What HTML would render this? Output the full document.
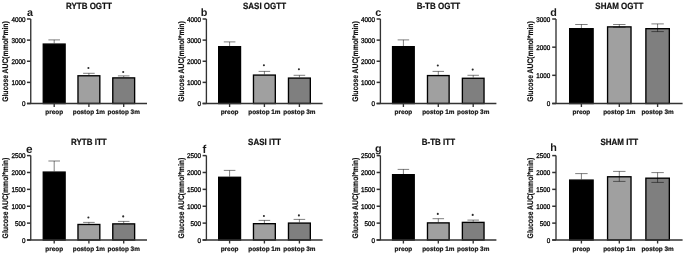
<!DOCTYPE html>
<html><head><meta charset="utf-8"><style>
html,body{margin:0;padding:0;background:#fff;}
body{width:685px;height:255px;overflow:hidden;}
svg{display:block;}
text{font-family:"Liberation Sans", sans-serif;font-weight:bold;fill:#111;text-rendering:geometricPrecision;}
.t{font-size:8.0px;stroke:#111;stroke-width:0.2px;}
.l{font-size:10.8px;fill:#1a1a1a;font-weight:bold;}
.k{font-size:6.3px;stroke:#111;stroke-width:0.3px;font-weight:normal;}
.x{font-size:6.4px;stroke:#111;stroke-width:0.2px;}
.yl{font-size:6.8px;stroke:#111;stroke-width:0.15px;}
</style></head><body>
<svg width="685" height="255" viewBox="0 0 685 255">
<rect width="685" height="255" fill="#fff"/>
<defs><filter id="bl" x="0" y="0" width="100%" height="100%" filterUnits="userSpaceOnUse"><feOffset dx="0" dy="0"/></filter></defs>
<g filter="url(#bl)">
<text transform="translate(88.88,8.7) scale(1,1.13)" class="t" text-anchor="middle">RYTB OGTT</text>
<text x="29.95" y="15.6" class="l" style="font-size:10.8px" text-anchor="middle">a</text>
<text transform="translate(8.15,61.55) rotate(-90) scale(1,1.2)" class="yl" text-anchor="middle">Glucose AUC(mmol*min)</text>
<rect x="43.27" y="44.07" width="21.85" height="59.43" fill="#000000" stroke="#000" stroke-width="1.35"/>
<path d="M54.2 39.9V43.4M48.4 39.9H60" stroke="#000" stroke-opacity="0.5" stroke-width="1.0" fill="none"/>
<path d="M54.2 103.5V107" stroke="#333" stroke-width="1.35"/>
<text x="54.2" y="113.8" class="x" text-anchor="middle">preop</text>
<rect x="77.98" y="75.77" width="21.85" height="27.73" fill="#a0a0a0" stroke="#000" stroke-width="1.35"/>
<path d="M88.9 73.3V75.1M83.1 73.3H94.7" stroke="#000" stroke-opacity="0.5" stroke-width="1.0" fill="none"/>
<circle cx="88.4" cy="68" r="1.05" fill="#2a2a2a"/>
<path d="M88.9 103.5V107" stroke="#333" stroke-width="1.35"/>
<text x="88.9" y="113.8" class="x" text-anchor="middle">postop 1m</text>
<rect x="112.78" y="77.88" width="21.85" height="25.62" fill="#7f7f7f" stroke="#000" stroke-width="1.35"/>
<path d="M123.7 75.9V77.2M117.9 75.9H129.5" stroke="#000" stroke-opacity="0.5" stroke-width="1.0" fill="none"/>
<circle cx="123.2" cy="72" r="1.05" fill="#2a2a2a"/>
<path d="M123.7 103.5V107" stroke="#333" stroke-width="1.35"/>
<text x="123.7" y="113.8" class="x" text-anchor="middle">postop 3m</text>
<path d="M30.75 19V103.5M26.95 103.5H147" stroke="#333" stroke-width="1.35" fill="none"/>
<path d="M26.95 103.5H30.75" stroke="#333" stroke-width="1.5"/>
<text transform="translate(25.45,106.38) scale(1,1.1)" class="k" text-anchor="end">0</text>
<path d="M26.95 82.38H30.75" stroke="#333" stroke-width="1.5"/>
<text transform="translate(25.45,85.26) scale(1,1.1)" class="k" text-anchor="end">1000</text>
<path d="M26.95 61.25H30.75" stroke="#333" stroke-width="1.5"/>
<text transform="translate(25.45,64.13) scale(1,1.1)" class="k" text-anchor="end">2000</text>
<path d="M26.95 40.12H30.75" stroke="#333" stroke-width="1.5"/>
<text transform="translate(25.45,43.01) scale(1,1.1)" class="k" text-anchor="end">3000</text>
<path d="M26.95 19H30.75" stroke="#333" stroke-width="1.5"/>
<text transform="translate(25.45,21.88) scale(1,1.1)" class="k" text-anchor="end">4000</text>
<text transform="translate(264.5,8.7) scale(1,1.13)" class="t" text-anchor="middle">SASI OGTT</text>
<text x="204.15" y="15.5" class="l" style="font-size:10.8px" text-anchor="middle">b</text>
<text transform="translate(183.8,61.55) rotate(-90) scale(1,1.2)" class="yl" text-anchor="middle">Glucose AUC(mmol*min)</text>
<rect x="218.68" y="46.67" width="21.85" height="56.83" fill="#000000" stroke="#000" stroke-width="1.35"/>
<path d="M229.6 41.9V46M223.8 41.9H235.4" stroke="#000" stroke-opacity="0.5" stroke-width="1.0" fill="none"/>
<path d="M229.6 103.5V107" stroke="#333" stroke-width="1.35"/>
<text x="229.6" y="113.8" class="x" text-anchor="middle">preop</text>
<rect x="253.47" y="75.08" width="21.85" height="28.42" fill="#a0a0a0" stroke="#000" stroke-width="1.35"/>
<path d="M264.4 71.4V74.4M258.6 71.4H270.2" stroke="#000" stroke-opacity="0.5" stroke-width="1.0" fill="none"/>
<circle cx="263.9" cy="65.3" r="1.05" fill="#2a2a2a"/>
<path d="M264.4 103.5V107" stroke="#333" stroke-width="1.35"/>
<text x="264.4" y="113.8" class="x" text-anchor="middle">postop 1m</text>
<rect x="288.47" y="78.08" width="21.85" height="25.42" fill="#7f7f7f" stroke="#000" stroke-width="1.35"/>
<path d="M299.4 75.3V77.4M293.6 75.3H305.2" stroke="#000" stroke-opacity="0.5" stroke-width="1.0" fill="none"/>
<circle cx="298.9" cy="69.2" r="1.05" fill="#2a2a2a"/>
<path d="M299.4 103.5V107" stroke="#333" stroke-width="1.35"/>
<text x="299.4" y="113.8" class="x" text-anchor="middle">postop 3m</text>
<path d="M206.4 19V103.5M202.6 103.5H322.6" stroke="#333" stroke-width="1.35" fill="none"/>
<path d="M202.6 103.5H206.4" stroke="#333" stroke-width="1.5"/>
<text transform="translate(201.1,106.38) scale(1,1.1)" class="k" text-anchor="end">0</text>
<path d="M202.6 82.38H206.4" stroke="#333" stroke-width="1.5"/>
<text transform="translate(201.1,85.26) scale(1,1.1)" class="k" text-anchor="end">1000</text>
<path d="M202.6 61.25H206.4" stroke="#333" stroke-width="1.5"/>
<text transform="translate(201.1,64.13) scale(1,1.1)" class="k" text-anchor="end">2000</text>
<path d="M202.6 40.12H206.4" stroke="#333" stroke-width="1.5"/>
<text transform="translate(201.1,43.01) scale(1,1.1)" class="k" text-anchor="end">3000</text>
<path d="M202.6 19H206.4" stroke="#333" stroke-width="1.5"/>
<text transform="translate(201.1,21.88) scale(1,1.1)" class="k" text-anchor="end">4000</text>
<text transform="translate(438.4,8.7) scale(1,1.13)" class="t" text-anchor="middle">B-TB OGTT</text>
<text x="378.2" y="15.6" class="l" style="font-size:10.8px" text-anchor="middle">c</text>
<text transform="translate(357.8,61.55) rotate(-90) scale(1,1.2)" class="yl" text-anchor="middle">Glucose AUC(mmol*min)</text>
<rect x="392.57" y="46.67" width="21.65" height="56.83" fill="#000000" stroke="#000" stroke-width="1.35"/>
<path d="M403.4 39.9V46M397.65 39.9H409.15" stroke="#000" stroke-opacity="0.5" stroke-width="1.0" fill="none"/>
<path d="M403.4 103.5V107" stroke="#333" stroke-width="1.35"/>
<text x="403.4" y="113.8" class="x" text-anchor="middle">preop</text>
<rect x="427.48" y="75.58" width="21.65" height="27.92" fill="#a0a0a0" stroke="#000" stroke-width="1.35"/>
<path d="M438.3 71.4V74.9M432.55 71.4H444.05" stroke="#000" stroke-opacity="0.5" stroke-width="1.0" fill="none"/>
<circle cx="437.8" cy="65.5" r="1.05" fill="#2a2a2a"/>
<path d="M438.3 103.5V107" stroke="#333" stroke-width="1.35"/>
<text x="438.3" y="113.8" class="x" text-anchor="middle">postop 1m</text>
<rect x="462.38" y="78.27" width="21.65" height="25.23" fill="#7f7f7f" stroke="#000" stroke-width="1.35"/>
<path d="M473.2 75.3V77.6M467.45 75.3H478.95" stroke="#000" stroke-opacity="0.5" stroke-width="1.0" fill="none"/>
<circle cx="472.7" cy="69.6" r="1.05" fill="#2a2a2a"/>
<path d="M473.2 103.5V107" stroke="#333" stroke-width="1.35"/>
<text x="473.2" y="113.8" class="x" text-anchor="middle">postop 3m</text>
<path d="M380.4 19V103.5M376.6 103.5H496.4" stroke="#333" stroke-width="1.35" fill="none"/>
<path d="M376.6 103.5H380.4" stroke="#333" stroke-width="1.5"/>
<text transform="translate(375.1,106.38) scale(1,1.1)" class="k" text-anchor="end">0</text>
<path d="M376.6 82.38H380.4" stroke="#333" stroke-width="1.5"/>
<text transform="translate(375.1,85.26) scale(1,1.1)" class="k" text-anchor="end">1000</text>
<path d="M376.6 61.25H380.4" stroke="#333" stroke-width="1.5"/>
<text transform="translate(375.1,64.13) scale(1,1.1)" class="k" text-anchor="end">2000</text>
<path d="M376.6 40.12H380.4" stroke="#333" stroke-width="1.5"/>
<text transform="translate(375.1,43.01) scale(1,1.1)" class="k" text-anchor="end">3000</text>
<path d="M376.6 19H380.4" stroke="#333" stroke-width="1.5"/>
<text transform="translate(375.1,21.88) scale(1,1.1)" class="k" text-anchor="end">4000</text>
<text transform="translate(619.3,8.7) scale(1,1.13)" class="t" text-anchor="middle">SHAM OGTT</text>
<text x="553.6" y="15.5" class="l" style="font-size:10.8px" text-anchor="middle">d</text>
<text transform="translate(533.4,61.55) rotate(-90) scale(1,1.2)" class="yl" text-anchor="middle">Glucose AUC(mmol*min)</text>
<rect x="569.67" y="28.68" width="23.45" height="74.83" fill="#000000" stroke="#000" stroke-width="1.35"/>
<path d="M581.4 24.5V28M575.2 24.5H587.6" stroke="#000" stroke-opacity="0.5" stroke-width="1.0" fill="none"/>
<path d="M581.4 103.5V107" stroke="#333" stroke-width="1.35"/>
<text x="581.4" y="113.8" class="x" text-anchor="middle">preop</text>
<rect x="607.57" y="26.88" width="23.45" height="76.62" fill="#a0a0a0" stroke="#000" stroke-width="1.35"/>
<path d="M619.3 24.5V27.2M613.1 24.5H625.5" stroke="#000" stroke-opacity="0.5" stroke-width="1.0" fill="none"/>
<path d="M613.1 27.2H625.5" stroke="#000" stroke-opacity="0.5" stroke-width="1.0" fill="none"/>
<path d="M619.3 103.5V107" stroke="#333" stroke-width="1.35"/>
<text x="619.3" y="113.8" class="x" text-anchor="middle">postop 1m</text>
<rect x="645.88" y="28.68" width="23.45" height="74.83" fill="#7f7f7f" stroke="#000" stroke-width="1.35"/>
<path d="M657.6 23.9V31.6M651.4 23.9H663.8" stroke="#000" stroke-opacity="0.5" stroke-width="1.0" fill="none"/>
<path d="M651.4 31.6H663.8" stroke="#000" stroke-opacity="0.5" stroke-width="1.0" fill="none"/>
<path d="M657.6 103.5V107" stroke="#333" stroke-width="1.35"/>
<text x="657.6" y="113.8" class="x" text-anchor="middle">postop 3m</text>
<path d="M556 19V103.5M552.2 103.5H682.6" stroke="#333" stroke-width="1.35" fill="none"/>
<path d="M552.2 103.5H556" stroke="#333" stroke-width="1.5"/>
<text transform="translate(550.2,106.38) scale(1,1.1)" class="k" text-anchor="end">0</text>
<path d="M552.2 75.33H556" stroke="#333" stroke-width="1.5"/>
<text transform="translate(550.2,78.21) scale(1,1.1)" class="k" text-anchor="end">1000</text>
<path d="M552.2 47.17H556" stroke="#333" stroke-width="1.5"/>
<text transform="translate(550.2,50.05) scale(1,1.1)" class="k" text-anchor="end">2000</text>
<path d="M552.2 19H556" stroke="#333" stroke-width="1.5"/>
<text transform="translate(550.2,21.88) scale(1,1.1)" class="k" text-anchor="end">3000</text>
<text transform="translate(88.88,144.8) scale(1,1.13)" class="t" text-anchor="middle">RYTB ITT</text>
<text x="29.35" y="152.6" class="l" style="font-size:11.8px" text-anchor="middle">e</text>
<text transform="translate(8.15,198.1) rotate(-90) scale(1,1.2)" class="yl" text-anchor="middle">Glucose AUC(mmol*min)</text>
<rect x="43.27" y="172.08" width="21.85" height="67.92" fill="#000000" stroke="#000" stroke-width="1.35"/>
<path d="M54.2 161V171.4M48.4 161H60" stroke="#000" stroke-opacity="0.5" stroke-width="1.0" fill="none"/>
<path d="M54.2 240V243.5" stroke="#333" stroke-width="1.35"/>
<text x="54.2" y="250.8" class="x" text-anchor="middle">preop</text>
<rect x="77.98" y="224.48" width="21.85" height="15.52" fill="#a0a0a0" stroke="#000" stroke-width="1.35"/>
<path d="M88.9 222.4V223.8M83.1 222.4H94.7" stroke="#000" stroke-opacity="0.5" stroke-width="1.0" fill="none"/>
<circle cx="88.4" cy="217.5" r="1.05" fill="#2a2a2a"/>
<path d="M88.9 240V243.5" stroke="#333" stroke-width="1.35"/>
<text x="88.9" y="250.8" class="x" text-anchor="middle">postop 1m</text>
<rect x="112.78" y="223.88" width="21.85" height="16.12" fill="#7f7f7f" stroke="#000" stroke-width="1.35"/>
<path d="M123.7 221.4V223.2M117.9 221.4H129.5" stroke="#000" stroke-opacity="0.5" stroke-width="1.0" fill="none"/>
<circle cx="123.2" cy="216.4" r="1.05" fill="#2a2a2a"/>
<path d="M123.7 240V243.5" stroke="#333" stroke-width="1.35"/>
<text x="123.7" y="250.8" class="x" text-anchor="middle">postop 3m</text>
<path d="M30.75 155.6V240M26.95 240H147" stroke="#333" stroke-width="1.35" fill="none"/>
<path d="M26.95 240H30.75" stroke="#333" stroke-width="1.5"/>
<text transform="translate(25.45,242.88) scale(1,1.1)" class="k" text-anchor="end">0</text>
<path d="M26.95 223.12H30.75" stroke="#333" stroke-width="1.5"/>
<text transform="translate(25.45,226) scale(1,1.1)" class="k" text-anchor="end">500</text>
<path d="M26.95 206.24H30.75" stroke="#333" stroke-width="1.5"/>
<text transform="translate(25.45,209.12) scale(1,1.1)" class="k" text-anchor="end">1000</text>
<path d="M26.95 189.36H30.75" stroke="#333" stroke-width="1.5"/>
<text transform="translate(25.45,192.24) scale(1,1.1)" class="k" text-anchor="end">1500</text>
<path d="M26.95 172.48H30.75" stroke="#333" stroke-width="1.5"/>
<text transform="translate(25.45,175.36) scale(1,1.1)" class="k" text-anchor="end">2000</text>
<path d="M26.95 155.6H30.75" stroke="#333" stroke-width="1.5"/>
<text transform="translate(25.45,158.48) scale(1,1.1)" class="k" text-anchor="end">2500</text>
<text transform="translate(264.5,144.8) scale(1,1.13)" class="t" text-anchor="middle">SASI ITT</text>
<text x="204.3" y="152.6" class="l" style="font-size:11.4px" text-anchor="middle">f</text>
<text transform="translate(183.8,198.1) rotate(-90) scale(1,1.2)" class="yl" text-anchor="middle">Glucose AUC(mmol*min)</text>
<rect x="218.68" y="177.28" width="21.85" height="62.72" fill="#000000" stroke="#000" stroke-width="1.35"/>
<path d="M229.6 170.4V176.6M223.8 170.4H235.4" stroke="#000" stroke-opacity="0.5" stroke-width="1.0" fill="none"/>
<path d="M229.6 240V243.5" stroke="#333" stroke-width="1.35"/>
<text x="229.6" y="250.8" class="x" text-anchor="middle">preop</text>
<rect x="253.47" y="223.68" width="21.85" height="16.32" fill="#a0a0a0" stroke="#000" stroke-width="1.35"/>
<path d="M264.4 220.4V223M258.6 220.4H270.2" stroke="#000" stroke-opacity="0.5" stroke-width="1.0" fill="none"/>
<circle cx="263.9" cy="216" r="1.05" fill="#2a2a2a"/>
<path d="M264.4 240V243.5" stroke="#333" stroke-width="1.35"/>
<text x="264.4" y="250.8" class="x" text-anchor="middle">postop 1m</text>
<rect x="288.47" y="223.08" width="21.85" height="16.92" fill="#7f7f7f" stroke="#000" stroke-width="1.35"/>
<path d="M299.4 219.4V222.4M293.6 219.4H305.2" stroke="#000" stroke-opacity="0.5" stroke-width="1.0" fill="none"/>
<circle cx="298.9" cy="215.4" r="1.05" fill="#2a2a2a"/>
<path d="M299.4 240V243.5" stroke="#333" stroke-width="1.35"/>
<text x="299.4" y="250.8" class="x" text-anchor="middle">postop 3m</text>
<path d="M206.4 155.6V240M202.6 240H322.6" stroke="#333" stroke-width="1.35" fill="none"/>
<path d="M202.6 240H206.4" stroke="#333" stroke-width="1.5"/>
<text transform="translate(201.1,242.88) scale(1,1.1)" class="k" text-anchor="end">0</text>
<path d="M202.6 223.12H206.4" stroke="#333" stroke-width="1.5"/>
<text transform="translate(201.1,226) scale(1,1.1)" class="k" text-anchor="end">500</text>
<path d="M202.6 206.24H206.4" stroke="#333" stroke-width="1.5"/>
<text transform="translate(201.1,209.12) scale(1,1.1)" class="k" text-anchor="end">1000</text>
<path d="M202.6 189.36H206.4" stroke="#333" stroke-width="1.5"/>
<text transform="translate(201.1,192.24) scale(1,1.1)" class="k" text-anchor="end">1500</text>
<path d="M202.6 172.48H206.4" stroke="#333" stroke-width="1.5"/>
<text transform="translate(201.1,175.36) scale(1,1.1)" class="k" text-anchor="end">2000</text>
<path d="M202.6 155.6H206.4" stroke="#333" stroke-width="1.5"/>
<text transform="translate(201.1,158.48) scale(1,1.1)" class="k" text-anchor="end">2500</text>
<text transform="translate(438.4,144.8) scale(1,1.13)" class="t" text-anchor="middle">B-TB ITT</text>
<text x="378.3" y="151.5" class="l" style="font-size:10.8px" text-anchor="middle">g</text>
<text transform="translate(357.8,198.1) rotate(-90) scale(1,1.2)" class="yl" text-anchor="middle">Glucose AUC(mmol*min)</text>
<rect x="392.57" y="174.68" width="21.65" height="65.32" fill="#000000" stroke="#000" stroke-width="1.35"/>
<path d="M403.4 169.4V174M397.65 169.4H409.15" stroke="#000" stroke-opacity="0.5" stroke-width="1.0" fill="none"/>
<path d="M403.4 240V243.5" stroke="#333" stroke-width="1.35"/>
<text x="403.4" y="250.8" class="x" text-anchor="middle">preop</text>
<rect x="427.48" y="222.88" width="21.65" height="17.12" fill="#a0a0a0" stroke="#000" stroke-width="1.35"/>
<path d="M438.3 218.7V222.2M432.55 218.7H444.05" stroke="#000" stroke-opacity="0.5" stroke-width="1.0" fill="none"/>
<circle cx="437.8" cy="213.9" r="1.05" fill="#2a2a2a"/>
<path d="M438.3 240V243.5" stroke="#333" stroke-width="1.35"/>
<text x="438.3" y="250.8" class="x" text-anchor="middle">postop 1m</text>
<rect x="462.38" y="222.38" width="21.65" height="17.62" fill="#7f7f7f" stroke="#000" stroke-width="1.35"/>
<path d="M473.2 220.1V221.7M467.45 220.1H478.95" stroke="#000" stroke-opacity="0.5" stroke-width="1.0" fill="none"/>
<circle cx="472.7" cy="214.9" r="1.05" fill="#2a2a2a"/>
<path d="M473.2 240V243.5" stroke="#333" stroke-width="1.35"/>
<text x="473.2" y="250.8" class="x" text-anchor="middle">postop 3m</text>
<path d="M380.4 155.6V240M376.6 240H496.4" stroke="#333" stroke-width="1.35" fill="none"/>
<path d="M376.6 240H380.4" stroke="#333" stroke-width="1.5"/>
<text transform="translate(375.1,242.88) scale(1,1.1)" class="k" text-anchor="end">0</text>
<path d="M376.6 223.12H380.4" stroke="#333" stroke-width="1.5"/>
<text transform="translate(375.1,226) scale(1,1.1)" class="k" text-anchor="end">500</text>
<path d="M376.6 206.24H380.4" stroke="#333" stroke-width="1.5"/>
<text transform="translate(375.1,209.12) scale(1,1.1)" class="k" text-anchor="end">1000</text>
<path d="M376.6 189.36H380.4" stroke="#333" stroke-width="1.5"/>
<text transform="translate(375.1,192.24) scale(1,1.1)" class="k" text-anchor="end">1500</text>
<path d="M376.6 172.48H380.4" stroke="#333" stroke-width="1.5"/>
<text transform="translate(375.1,175.36) scale(1,1.1)" class="k" text-anchor="end">2000</text>
<path d="M376.6 155.6H380.4" stroke="#333" stroke-width="1.5"/>
<text transform="translate(375.1,158.48) scale(1,1.1)" class="k" text-anchor="end">2500</text>
<text transform="translate(619.3,144.8) scale(1,1.13)" class="t" text-anchor="middle">SHAM ITT</text>
<text x="553.6" y="151.3" class="l" style="font-size:10.8px" text-anchor="middle">h</text>
<text transform="translate(533.4,198.1) rotate(-90) scale(1,1.2)" class="yl" text-anchor="middle">Glucose AUC(mmol*min)</text>
<rect x="569.67" y="180.08" width="23.45" height="59.92" fill="#000000" stroke="#000" stroke-width="1.35"/>
<path d="M581.4 173.6V179.4M575.2 173.6H587.6" stroke="#000" stroke-opacity="0.5" stroke-width="1.0" fill="none"/>
<path d="M581.4 240V243.5" stroke="#333" stroke-width="1.35"/>
<text x="581.4" y="250.8" class="x" text-anchor="middle">preop</text>
<rect x="607.57" y="176.78" width="23.45" height="63.22" fill="#a0a0a0" stroke="#000" stroke-width="1.35"/>
<path d="M619.3 171.4V181.4M613.1 171.4H625.5" stroke="#000" stroke-opacity="0.5" stroke-width="1.0" fill="none"/>
<path d="M613.1 181.4H625.5" stroke="#000" stroke-opacity="0.5" stroke-width="1.0" fill="none"/>
<path d="M619.3 240V243.5" stroke="#333" stroke-width="1.35"/>
<text x="619.3" y="250.8" class="x" text-anchor="middle">postop 1m</text>
<rect x="645.88" y="178.18" width="23.45" height="61.82" fill="#7f7f7f" stroke="#000" stroke-width="1.35"/>
<path d="M657.6 172.6V182.4M651.4 172.6H663.8" stroke="#000" stroke-opacity="0.5" stroke-width="1.0" fill="none"/>
<path d="M651.4 182.4H663.8" stroke="#000" stroke-opacity="0.5" stroke-width="1.0" fill="none"/>
<path d="M657.6 240V243.5" stroke="#333" stroke-width="1.35"/>
<text x="657.6" y="250.8" class="x" text-anchor="middle">postop 3m</text>
<path d="M556 155.6V240M552.2 240H682.6" stroke="#333" stroke-width="1.35" fill="none"/>
<path d="M552.2 240H556" stroke="#333" stroke-width="1.5"/>
<text transform="translate(550.2,242.88) scale(1,1.1)" class="k" text-anchor="end">0</text>
<path d="M552.2 223.12H556" stroke="#333" stroke-width="1.5"/>
<text transform="translate(550.2,226) scale(1,1.1)" class="k" text-anchor="end">500</text>
<path d="M552.2 206.24H556" stroke="#333" stroke-width="1.5"/>
<text transform="translate(550.2,209.12) scale(1,1.1)" class="k" text-anchor="end">1000</text>
<path d="M552.2 189.36H556" stroke="#333" stroke-width="1.5"/>
<text transform="translate(550.2,192.24) scale(1,1.1)" class="k" text-anchor="end">1500</text>
<path d="M552.2 172.48H556" stroke="#333" stroke-width="1.5"/>
<text transform="translate(550.2,175.36) scale(1,1.1)" class="k" text-anchor="end">2000</text>
<path d="M552.2 155.6H556" stroke="#333" stroke-width="1.5"/>
<text transform="translate(550.2,158.48) scale(1,1.1)" class="k" text-anchor="end">2500</text>
</g>
</svg>
</body></html>
